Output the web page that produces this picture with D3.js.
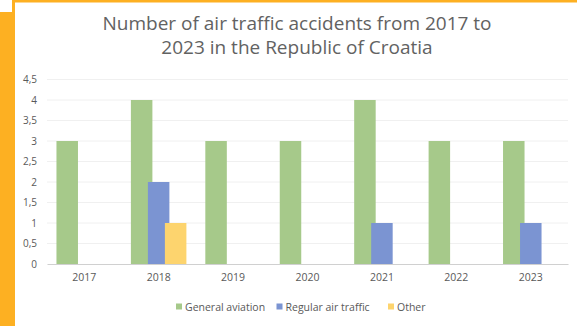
<!DOCTYPE html>
<html lang="en">
<head>
    <meta charset="UTF-8">
    <title>Air traffic accidents in Croatia</title>
    <style>
        body { margin: 0; background: #fff; }
        svg { display: block; }
        text { font-family: "Open Sans", sans-serif; fill: #595959; }
    </style>
</head>
<body>
    <script src="https://d3js.org/d3.v7.min.js"></script>
    <script type="text/javascript">
        // chart data
        var years = ["2017", "2018", "2019", "2020", "2021", "2022", "2023"];
        var seriesNames = ["General aviation", "Regular air traffic", "Other"];
        var generalAviation = [3, 4, 3, 3, 4, 3, 3];
        var regularAirTraffic = [0, 2, 0, 0, 1, 0, 1];
        var other = [0, 1, 0, 0, 0, 0, 0];
        var yTicks = [0, 0.5, 1, 1.5, 2, 2.5, 3, 3.5, 4, 4.5];
        var titleLines = ["Number of air traffic accidents from 2017 to", "2023 in the Republic of Croatia"];
        var colors = ["#a6c98a", "#7b94d2", "#fdd46e"];

        var width = 577, height = 326;
        var svg = d3.select("body").append("svg")
            .attr("width", width)
            .attr("height", height);

        // orange frame around the slide
        svg.append("rect").attr("x", 0).attr("y", 12).attr("width", 15).attr("height", height - 12).attr("fill", "#fdb022");
        svg.append("rect").attr("x", 12).attr("y", 0).attr("width", width - 12).attr("height", 2.5).attr("fill", "#fdb022");
        svg.append("rect").attr("x", 12).attr("y", 0).attr("width", 3).attr("height", 12).attr("fill", "#fdb022");

        // title, two lines
        svg.append("g").selectAll("text")
            .data(titleLines)
            .enter().append("text")
            .attr("x", 297)
            .attr("y", function(d, i) { return 30 + i * 24; })
            .attr("text-anchor", "middle")
            .attr("font-size", 19)
            .style("fill", "#626262")
            .text(function(d) { return d; });

        var plotLeft = 47, plotRight = 568, plotTop = 79.5, plotBottom = 264;

        var x0 = d3.scaleBand().domain(years).range([plotLeft, plotRight]).padding(0);
        var x1 = d3.scalePoint().domain(seriesNames).range([-17, 17]);
        var barW = 21.5;
        var y = d3.scaleLinear().domain([0, 4.5]).range([plotBottom, plotTop]);

        // gridlines
        svg.append("g").selectAll("line")
            .data(yTicks.slice(1))
            .enter().append("line")
            .attr("x1", plotLeft).attr("x2", plotRight)
            .attr("y1", function(d) { return y(d); })
            .attr("y2", function(d) { return y(d); })
            .attr("stroke", "#f0f0f0")
            .attr("stroke-width", 1);

        // y axis labels
        var yAxis = d3.axisLeft(y)
            .tickValues(yTicks)
            .tickSize(0)
            .tickPadding(0)
            .tickFormat(function(d) { return String(d).replace(".", ","); });
        var gy = svg.append("g")
            .attr("transform", "translate(37,0)")
            .call(yAxis);
        gy.select(".domain").remove();
        gy.selectAll("text")
            .attr("font-family", "'Open Sans', sans-serif")
            .attr("font-size", 10)
            .attr("fill", "#595959");

        // bars
        var table = years.map(function(yr, i) {
            return [generalAviation[i], regularAirTraffic[i], other[i]].map(function(v, j) {
                return { year: yr, series: seriesNames[j], value: v, color: colors[j] };
            });
        });

        var groups = svg.append("g").selectAll("g")
            .data(table)
            .enter().append("g")
            .attr("transform", function(d, i) {
                return "translate(" + (x0(years[i]) + x0.bandwidth() / 2) + ",0)";
            });

        groups.selectAll("rect")
            .data(function(d) { return d.filter(function(e) { return e.value > 0; }); })
            .enter().append("rect")
            .attr("x", function(d) { return x1(d.series) - barW / 2; })
            .attr("y", function(d) { return y(d.value); })
            .attr("width", barW)
            .attr("height", function(d) { return y(0) - y(d.value); })
            .attr("fill", function(d) { return d.color; });

        // x axis
        var xAxis = d3.axisBottom(x0).tickSize(0).tickPadding(10);
        var gx = svg.append("g")
            .attr("transform", "translate(0," + plotBottom + ")")
            .call(xAxis);
        gx.select(".domain").attr("stroke", "#d0d0d0").attr("stroke-width", 1.2);
        gx.selectAll("text")
            .attr("font-family", "'Open Sans', sans-serif")
            .attr("font-size", 10.5)
            .attr("fill", "#595959");

        // legend
        var legendX = [176, 276.5, 388];
        var legend = svg.append("g").selectAll("g")
            .data(seriesNames)
            .enter().append("g")
            .attr("transform", function(d, i) { return "translate(" + legendX[i] + ",307)"; });
        legend.append("rect")
            .attr("x", 0).attr("y", -3.5)
            .attr("width", 6).attr("height", 6)
            .attr("fill", function(d, i) { return colors[i]; });
        legend.append("text")
            .attr("x", 9)
            .attr("y", 3.5)
            .attr("font-size", 10.5)
            .text(function(d) { return d; });
    </script>
</body>
</html>
